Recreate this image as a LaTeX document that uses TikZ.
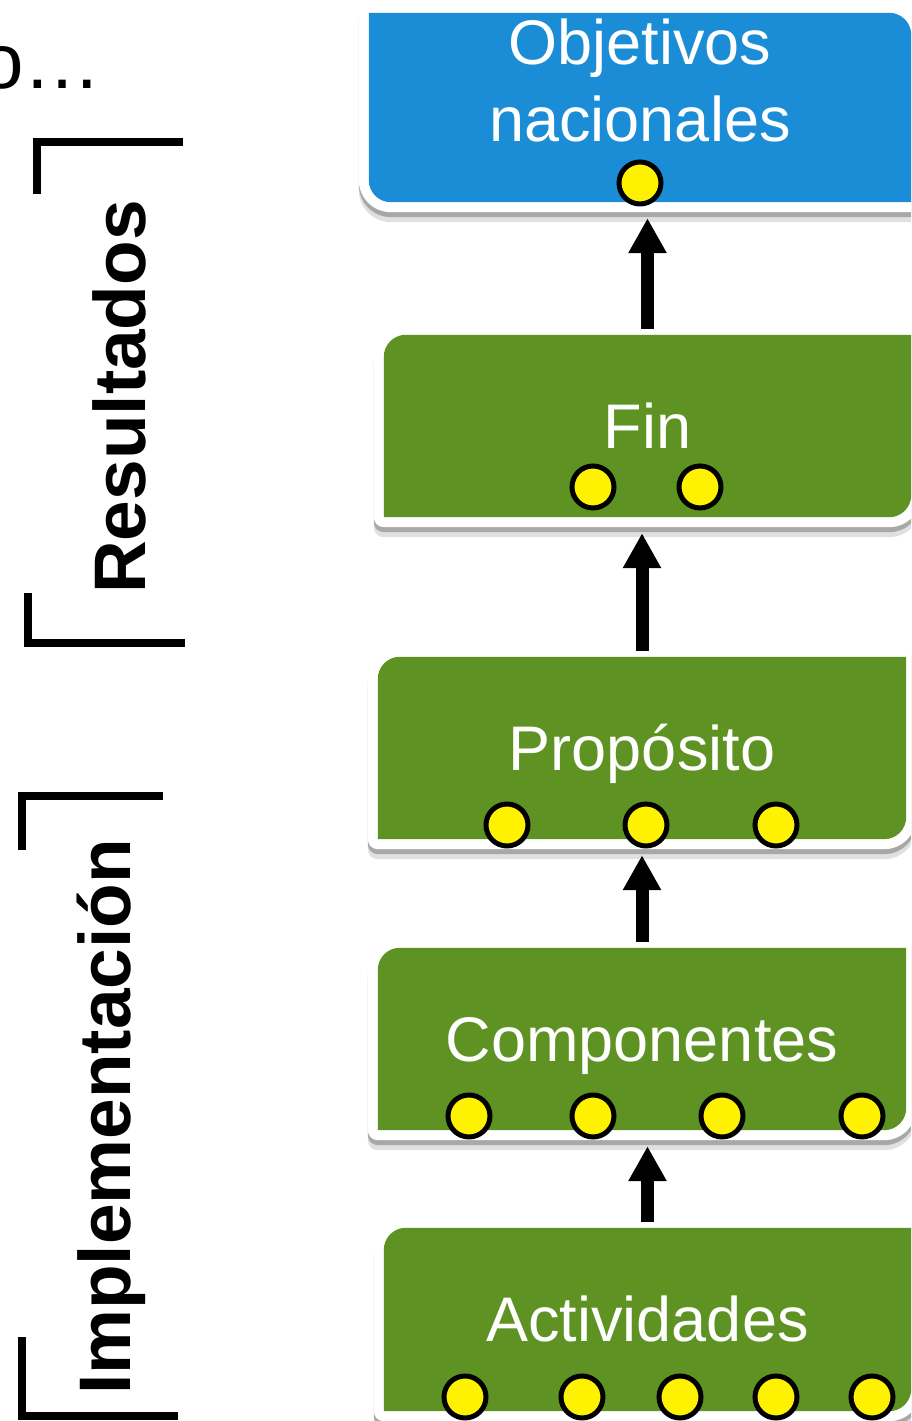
\documentclass[tikz,border=0pt]{standalone}
\usepackage{fontspec}
\setmainfont{Liberation Sans}
\usetikzlibrary{arrows.meta,positioning,calc,backgrounds}
\definecolor{boxgreen}{HTML}{5E9323}
\definecolor{boxblue}{HTML}{1B8DD6}

\begin{document}
\begin{tikzpicture}[x=1pt, y=1pt, >={Triangle[length=35pt, width=36pt]},
    level/.style={minimum height=182pt, inner sep=0pt, text=white, font=\fontsize{63}{77}\selectfont, text height=45pt, text depth=0pt},
    dot/.style={circle, draw=black, line width=5pt, fill=yellow, minimum size=42pt, inner sep=0pt},
    shell/.style={fill=#1,
      preaction={draw=black, opacity=.12, line width=20pt, line join=round, transform canvas={yshift=-10pt}},
      preaction={draw=black, opacity=.25, line width=20pt, line join=round, transform canvas={yshift=-5pt}},
      preaction={draw=white, line width=20pt, line join=round}},
    flow/.style={->, line width=13pt, shorten <=6pt, shorten >=16pt},
    bracket/.style={line width=8pt},
    side/.style={rotate=90, anchor=base, font=\fontsize{73}{80}\selectfont\bfseries}]
  \path[use as bounding box] (0,0) rectangle (911,1421);
  \clip (0,0) rectangle (911,1421);

  % Cut-off heading
  \node[anchor=base east, font=\fontsize{78}{80}\selectfont, inner sep=0pt] (head) at (102,1332) {o…};

  % Levels
  \node[level, minimum width=542pt, minimum height=189pt, label={[text=white, font=\fontsize{63}{77}\selectfont, align=center, yshift=27pt]center:Objetivos\\nacionales}] (obj) at (640,1313.5) {};
  \node[level, minimum width=527pt] (fin) at (647.5,995) {Fin};
  \node[level, minimum width=528pt] (prop) at (642,673) {Propósito};
  \node[level, minimum width=528pt] (comp) at (642,382) {Componentes};
  \node[level, minimum width=527pt, minimum height=183pt] (act) at (647.5,101.5) {Actividades};

  % Box shapes
  \begin{scope}[on background layer]
    \clip (0,0) rectangle (911,1421);
    \path[shell=boxblue] (obj.north west) -- ([xshift=-22pt]obj.north east) arc[start angle=90, end angle=0, radius=22] -- (obj.south east) -- ([xshift=22pt]obj.south west) arc[start angle=270, end angle=180, radius=22] -- cycle;
    \foreach \n in {fin,prop,comp,act}
      \path[shell=boxgreen] (\n.south west) -- ([yshift=-22pt]\n.north west) arc[start angle=180, end angle=90, radius=22] -- (\n.north east) -- ([yshift=22pt]\n.south east) arc[start angle=0, end angle=-90, radius=22] -- cycle;
  \end{scope}

  % Indicators
  \node[dot] (obj-dot1) at (640,1238) {};
  \foreach \x [count=\i] in {593,700} \node[dot] (fin-dot\i) at (\x,934) {};
  \foreach \x [count=\i] in {507,646,776} \node[dot] (prop-dot\i) at (\x,596) {};
  \foreach \x [count=\i] in {469,593,722,862} \node[dot] (comp-dot\i) at (\x,305) {};
  \foreach \x [count=\i] in {465,582,680,776,872} \node[dot] (act-dot\i) at (\x,24) {};

  % Arrows
  \draw[flow] (fin.north) -- (fin.north |- obj.south);
  \draw[flow] (prop.north) -- (prop.north |- fin.south);
  \draw[flow] (comp.north) -- (comp.north |- prop.south);
  \draw[flow] (act.north) -- (act.north |- comp.south);

  % Side brackets
  \draw[bracket] (183,1279) -- (37,1279) -- (37,1227);
  \draw[bracket] (28,828) -- (28,778) -- (185,778);
  \node[side] (results) at (145,1024) {Resultados};

  \draw[bracket] (163,625) -- (22,625) -- (22,571);
  \draw[bracket] (22,84) -- (22,5) -- (178,5);
  \node[side] (impl) at (130,304) {Implementación};
\end{tikzpicture}
\end{document}
